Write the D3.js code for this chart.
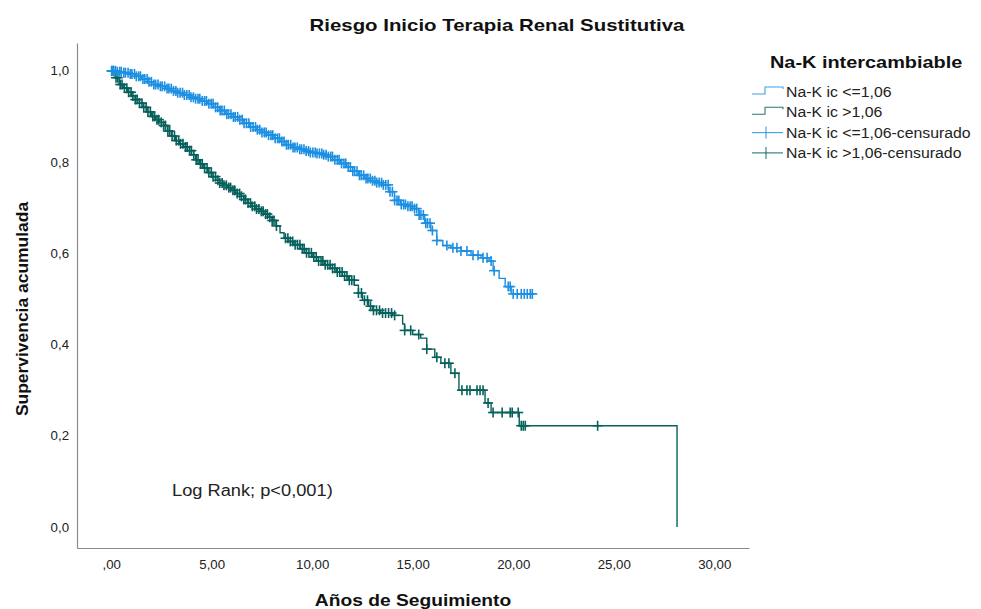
<!DOCTYPE html>
<html>
<head>
<meta charset="utf-8">
<script src="https://cdn.jsdelivr.net/npm/d3@7"></script>
<style>
  html, body { margin: 0; padding: 0; background: #ffffff; }
  svg { display: block; font-family: Arial, "Liberation Sans", sans-serif; }
</style>
</head>
<body>
<svg id="chart" width="981" height="609"></svg>
<script>
// Kaplan-Meier estimates, Na-K intercambiable <= 1,06
const lowTimes = [0, 0.3, 0.6, 0.9, 1.2, 1.5, 1.8, 2.1, 2.4, 2.7, 3.0, 3.3, 3.6, 3.9, 4.2, 4.5, 4.8, 5.1, 5.4, 5.7,
  6.0, 6.3, 6.6, 6.9, 7.2, 7.5, 7.8, 8.1, 8.4, 8.7, 9.0, 9.3, 9.6, 9.9, 10.2, 10.5, 10.8, 11.1, 11.4, 11.7,
  12.0, 12.3, 12.6, 12.9, 13.2, 13.5, 13.8, 14.1, 14.4, 14.7, 15.0, 15.3, 15.6, 15.9, 16.2, 16.5, 16.9, 17.4,
  17.9, 18.4, 18.8, 19.0, 19.3, 19.6, 19.9];
const lowSurv = [1.0, 0.998, 0.996, 0.993, 0.988, 0.982, 0.976, 0.970, 0.966, 0.961, 0.956, 0.952, 0.947, 0.942,
  0.939, 0.934, 0.928, 0.920, 0.913, 0.905, 0.899, 0.893, 0.885, 0.877, 0.871, 0.865, 0.859, 0.852, 0.845,
  0.838, 0.832, 0.828, 0.824, 0.821, 0.819, 0.816, 0.812, 0.805, 0.797, 0.789, 0.780, 0.771, 0.764, 0.759,
  0.755, 0.750, 0.735, 0.716, 0.707, 0.703, 0.698, 0.684, 0.666, 0.650, 0.628, 0.617, 0.612, 0.605, 0.596,
  0.590, 0.583, 0.562, 0.545, 0.527, 0.511];
const lowEnd = 20.95;
const lowCensored = [0.02, 0.1, 0.21, 0.3, 0.42, 0.5, 0.63, 0.71, 0.84, 0.95, 1.03, 1.16, 1.25, 1.37, 1.46, 1.58,
  1.67, 1.79, 1.88, 2.0, 2.12, 2.21, 2.33, 2.45, 2.54, 2.66, 2.78, 2.87, 2.99, 3.1, 3.22, 3.31, 3.43, 3.55,
  3.64, 3.76, 3.88, 3.97, 4.09, 4.2, 4.32, 4.41, 4.53, 4.65, 4.74, 4.86, 4.98, 5.07, 5.19, 5.3, 5.42, 5.51,
  5.63, 5.75, 5.84, 5.96, 6.08, 6.17, 6.29, 6.4, 6.52, 6.61, 6.73, 6.85, 6.94, 7.06, 7.18, 7.27, 7.39, 7.5,
  7.62, 7.71, 7.83, 7.95, 8.04, 8.16, 8.28, 8.37, 8.49, 8.6, 8.72, 8.81, 8.93, 9.05, 9.14, 9.26, 9.38, 9.47,
  9.59, 9.7, 9.82, 9.91, 10.03, 10.15, 10.24, 10.36, 10.48, 10.57, 10.69, 10.8, 10.92, 11.01, 11.13, 11.25,
  11.34, 11.46, 11.58, 11.67, 11.79, 11.9, 12.02, 12.11, 12.23, 12.35, 12.44, 12.56, 12.68, 12.77, 12.89,
  13.0, 13.12, 13.21, 13.33, 13.45, 13.54, 13.66, 13.78, 13.87, 13.99, 14.1, 14.22, 14.31, 14.43, 14.55,
  14.64, 14.76, 14.88, 14.97, 15.09, 15.2, 15.32, 15.41, 15.53, 15.65, 15.74, 15.86, 15.98, 16.2, 16.7,
  17.0, 17.2, 17.4, 17.7, 18.0, 18.25, 18.5, 18.7, 18.9, 19.05, 19.75, 19.85, 20.0, 20.2, 20.4, 20.55, 20.7,
  20.85, 20.95];

// Kaplan-Meier estimates, Na-K intercambiable > 1,06
const highTimes = [0, 0.2, 0.4, 0.6, 0.8, 1.0, 1.2, 1.4, 1.6, 1.8, 2.0, 2.2, 2.4, 2.6, 2.8, 3.0, 3.2, 3.4, 3.6,
  3.8, 4.0, 4.2, 4.4, 4.6, 4.8, 5.0, 5.2, 5.4, 5.6, 5.8, 6.0, 6.2, 6.4, 6.6, 6.8, 7.0, 7.2, 7.4, 7.6, 7.8,
  8.0, 8.2, 8.4, 8.6, 8.8, 9.1, 9.4, 9.7, 10.0, 10.3, 10.6, 10.9, 11.2, 11.5, 11.8, 12.1, 12.3, 12.5, 12.8,
  13.0, 13.4, 14.0, 14.5, 14.6, 15.0, 15.4, 15.7, 16.1, 16.4, 16.9, 17.3, 18.6, 18.9, 20.3, 28.15];
const highSurv = [1.0, 0.985, 0.970, 0.962, 0.953, 0.945, 0.937, 0.929, 0.920, 0.910, 0.900, 0.893, 0.887, 0.880,
  0.868, 0.857, 0.847, 0.840, 0.833, 0.825, 0.816, 0.805, 0.796, 0.787, 0.777, 0.768, 0.760, 0.754, 0.749,
  0.744, 0.738, 0.731, 0.725, 0.718, 0.710, 0.703, 0.697, 0.692, 0.686, 0.679, 0.672, 0.660, 0.645, 0.633,
  0.626, 0.619, 0.610, 0.601, 0.592, 0.583, 0.575, 0.567, 0.559, 0.550, 0.541, 0.530, 0.513, 0.497, 0.484,
  0.475, 0.469, 0.464, 0.445, 0.431, 0.422, 0.414, 0.390, 0.372, 0.359, 0.337, 0.300, 0.272, 0.251, 0.222,
  0.0];
const highEnd = 28.15;
const highCensored = [0.03, 0.12, 0.24, 0.33, 0.45, 0.54, 0.66, 0.78, 0.87, 0.99, 1.08, 1.2, 1.29, 1.41, 1.53,
  1.62, 1.74, 1.83, 1.95, 2.07, 2.16, 2.28, 2.37, 2.49, 2.61, 2.7, 2.82, 2.91, 3.03, 3.15, 3.24, 3.36, 3.45,
  3.57, 3.69, 3.78, 3.9, 3.99, 4.11, 4.23, 4.32, 4.44, 4.53, 4.65, 4.77, 4.86, 4.98, 5.07, 5.19, 5.31, 5.4,
  5.52, 5.61, 5.73, 5.85, 5.94, 6.06, 6.15, 6.27, 6.39, 6.48, 6.6, 6.69, 6.81, 6.93, 7.02, 7.14, 7.23, 7.35,
  7.47, 7.56, 7.68, 7.77, 7.89, 8.01, 8.1, 8.22, 8.67, 8.79, 8.91, 9.03, 9.15, 9.27, 9.39, 9.51, 9.6, 9.72,
  9.84, 9.96, 10.08, 10.2, 10.32, 10.44, 10.53, 10.65, 10.77, 10.89, 11.01, 11.13, 11.25, 11.37, 11.49, 11.61,
  11.73, 11.85, 11.97, 12.09, 12.3, 12.45, 12.6, 12.75, 12.9, 13.05, 13.2, 13.35, 13.5, 13.65, 13.8, 13.95,
  14.1, 14.6, 14.9, 15.3, 15.7, 16.2, 16.6, 16.8, 17.1, 17.45, 17.7, 17.85, 18.2, 18.35, 18.5, 18.75, 19.0,
  19.45, 19.85, 19.95, 20.25, 20.4, 20.5, 20.6, 24.2];

const xTicks = [0, 5, 10, 15, 20, 25, 30];
const xTickLabels = [",00", "5,00", "10,00", "15,00", "20,00", "25,00", "30,00"];
const yTicks = [0, 0.2, 0.4, 0.6, 0.8, 1.0];
const yTickLabels = ["0,0", "0,2", "0,4", "0,6", "0,8", "1,0"];

const groupNames = ["Na-K ic <=1,06", "Na-K ic >1,06"];
const censoredNames = ["Na-K ic <=1,06-censurado", "Na-K ic >1,06-censurado"];
const groupColors = ["#1c8fe2", "#06605b"];

const svg = d3.select("#chart");

// Text in this chart is set slightly wide; widen glyphs by a factor around the anchor
function widen(sel, factor) {
  sel.each(function () {
    const len = this.getComputedTextLength();
    d3.select(this).attr("textLength", len * factor).attr("lengthAdjust", "spacingAndGlyphs");
  });
  return sel;
}

// Plot frame: axis lines run from x=77 to 749 and y=43 to 548
const x = d3.scaleLinear().domain([-1.7, 31.73]).range([77, 749]);
const y = d3.scaleLinear().domain([-0.046, 1.061]).range([548, 43]);

// Axes without tick marks, grey baseline
const xAxis = d3.axisBottom(x).tickValues(xTicks).tickSize(0).tickPadding(12)
  .tickFormat((d, i) => xTickLabels[i]);
const yAxis = d3.axisLeft(y).tickValues(yTicks).tickSize(0).tickPadding(8)
  .tickFormat((d, i) => yTickLabels[i]);

const gx = svg.append("g").attr("transform", `translate(0,${y(-0.046)})`).call(xAxis);
const gy = svg.append("g").attr("transform", `translate(${x(-1.7)},0)`).call(yAxis);
[gx, gy].forEach(g => {
  g.select(".domain").attr("stroke", "#8a8a8a").attr("stroke-width", 1.2);
  g.selectAll("text").attr("fill", "#222").style("font-size", "12.5px")
    .style("font-family", "Arial, 'Liberation Sans', sans-serif");
  widen(g.selectAll("text"), 1.06);
});

// Step survival curves
function stepPoints(times, surv, end) {
  const pts = times.map((t, i) => [t, surv[i]]);
  const last = pts[pts.length - 1];
  if (end > last[0]) pts.push([end, last[1]]);
  return pts;
}
function survivalAt(times, surv, t) {
  let v = surv[0];
  for (let i = 0; i < times.length; i++) { if (times[i] <= t) v = surv[i]; else break; }
  return v;
}

const line = d3.line().x(d => x(d[0])).y(d => y(d[1])).curve(d3.curveStepAfter);

const groups = [
  { times: lowTimes, surv: lowSurv, end: lowEnd, cens: lowCensored, color: groupColors[0] },
  { times: highTimes, surv: highSurv, end: highEnd, cens: highCensored, color: groupColors[1] }
];

const plot = svg.append("g");
// draw the >1,06 group first so the <=1,06 group sits on top
[groups[1], groups[0]].forEach(g => {
  plot.append("path")
    .attr("d", line(stepPoints(g.times, g.surv, g.end)))
    .attr("fill", "none")
    .attr("stroke", g.color)
    .attr("stroke-width", 1.4);
  const marks = plot.append("g");
  g.cens.forEach(t => {
    const cx = x(t), cy = y(survivalAt(g.times, g.surv, t));
    marks.append("line").attr("x1", cx).attr("x2", cx).attr("y1", cy - 5).attr("y2", cy + 5)
      .attr("stroke", g.color).attr("stroke-width", 1.6);
    marks.append("line").attr("x1", cx - 5).attr("x2", cx + 5).attr("y1", cy).attr("y2", cy)
      .attr("stroke", g.color).attr("stroke-width", 1.6);
  });
});

// Titles
widen(svg.append("text").attr("x", 497).attr("y", 31).attr("text-anchor", "middle")
  .style("font-size", "17px").style("font-weight", "bold").attr("fill", "#111")
  .text("Riesgo Inicio Terapia Renal Sustitutiva"), 1.2);

widen(svg.append("text").attr("x", (x(-1.7) + x(31.73)) / 2).attr("y", 606).attr("text-anchor", "middle")
  .style("font-size", "17px").style("font-weight", "bold").attr("fill", "#111")
  .text("Años de Seguimiento"), 1.13);

widen(svg.append("text").attr("transform", "translate(28,309) rotate(-90)").attr("text-anchor", "middle")
  .style("font-size", "16px").style("font-weight", "bold").attr("fill", "#111")
  .text("Supervivencia acumulada"), 1.09);

widen(svg.append("text").attr("x", 172).attr("y", 496)
  .style("font-size", "16px").attr("fill", "#222")
  .text("Log Rank; p<0,001)"), 1.14);

// Legend
const legend = svg.append("g");
widen(legend.append("text").attr("x", 770).attr("y", 68)
  .style("font-size", "17px").style("font-weight", "bold").attr("fill", "#111")
  .text("Na-K intercambiable"), 1.17);

const legendRows = [
  { label: groupNames[0], color: groupColors[0], kind: "step" },
  { label: groupNames[1], color: groupColors[1], kind: "step" },
  { label: censoredNames[0], color: groupColors[0], kind: "cens" },
  { label: censoredNames[1], color: groupColors[1], kind: "cens" }
];
legendRows.forEach((r, i) => {
  const cy = 92 + i * 20.3;
  const g = legend.append("g");
  if (r.kind === "step") {
    g.append("path")
      .attr("d", `M752,${cy + 2}H765V${cy - 5}H783V${cy - 3}`)
      .attr("fill", "none").attr("stroke", r.color).attr("stroke-width", 1.1).attr("opacity", 0.85);
  } else {
    g.append("line").attr("x1", 752).attr("x2", 783).attr("y1", cy).attr("y2", cy)
      .attr("stroke", r.color).attr("stroke-width", 1.1).attr("opacity", 0.85);
    g.append("line").attr("x1", 766).attr("x2", 766).attr("y1", cy - 6).attr("y2", cy + 6)
      .attr("stroke", r.color).attr("stroke-width", 1.1).attr("opacity", 0.85);
  }
  widen(g.append("text").attr("x", 786).attr("y", cy + 5)
    .style("font-size", "14px").attr("fill", "#222").text(r.label), 1.13);
});
</script>
</body>
</html>
